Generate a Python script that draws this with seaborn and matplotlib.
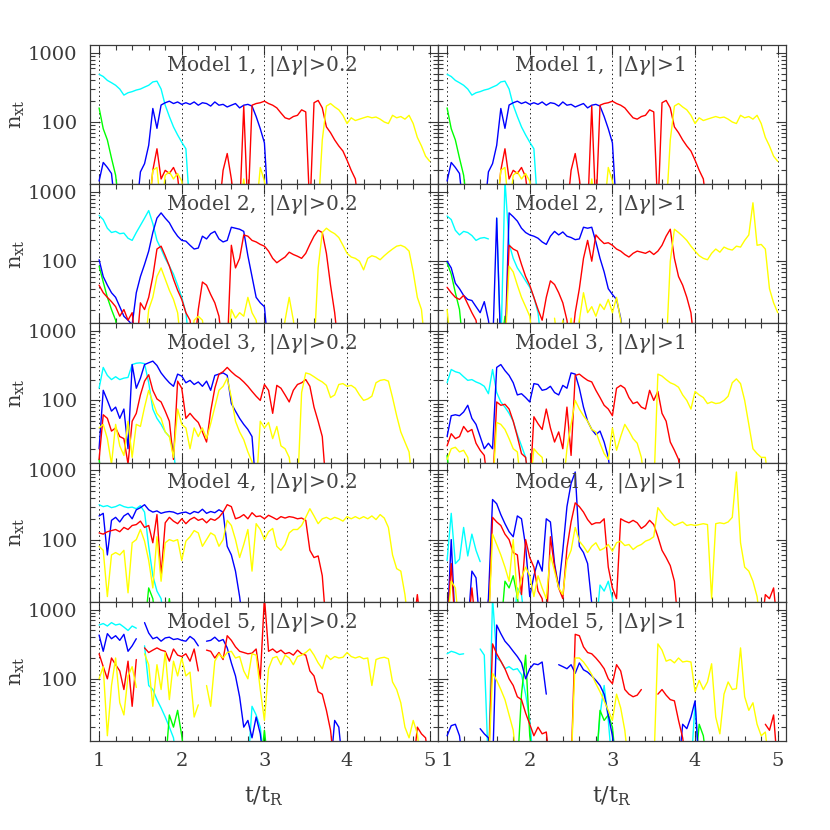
"""
n_xt vs t/t_R for five models, two |dgamma| thresholds (5x2 grid, log y)
"""

import numpy as np
import pandas as pd
import matplotlib
matplotlib.use("Agg")
import matplotlib.pyplot as plt
import matplotlib.ticker as mticker
import seaborn as sns

nan = np.nan

# sampling grid in t/t_R (values read every 0.05)
t = np.round(np.arange(1.0, 5.001, 0.05), 2)

# ---- Model 1 (both thresholds look the same) ----
m1_cyan = [490, 455, 400, 370, 340, 300, 245, 265, 275, 290, 300, 320, 340, 380, 390, 300, 175, 120, 85, 65, 51, 41, 5]
m1_green = [160, 80, 55, 30, 17, 5]
m1_blue = [14, 26, 22, 18, 5, 5, 5, 5, 5, 5, 19, 25, 46, 157, 81, 176, 190, 200,
           185, 195, 180, 190, 180, 195, 175, 190, 185, 170, 195, 175, 180, 165, 175, 185, 160, 175, 180, 170,
           120, 80, 50, 5]
m1_red = [nan] * 12 + [5, 20, 41, 15, 20, 18, 22, 16, 5] + [nan] * 8 + \
         [5, 20, 35, 15, 5, 5, 170, 5, 175, 185, 190, 200, 185, 175, 160, 135, 115, 110, 120, 125, 150, 140,
          5, 190, 205, 160, 85, 70, 55, 45, 38, 28, 20, 15, 5]
m1_yellow = [nan] * 12 + [5, 20, 22, 5, 17, 19, 15, 18, 14, 5] + [nan] * 12 + [5, 15, 5] + \
            [nan, 5, 22, 14, 5] + [nan] * 11 + \
            [5, 55, 170, 185, 165, 150, 125, 95, 115, 105, 110, 115, 120, 115, 118, 110, 100, 95, 125, 115,
             120, 110, 125, 95, 60, 45, 32, 27]

# ---- Model 2, |dgamma|>0.2 ----
m2a_cyan = [460, 400, 300, 260, 270, 250, 255, 215, 200, 260, 330, 420, 540, 350, 200, 150, 110, 85, 65, 45, 30, 18, 5]
m2a_green = [85, 50, 30, 20, 14, 5]
m2a_blue = [105, 60, 45, 35, 30, 22, 16, 14, 12, 35, 60, 90, 140, 260, 420, 500, 420, 360, 280, 230,
            200, 195, 170, 150, 155, 230, 210, 250, 270, 210, 190, 200, 310, 300, 290, 270, 120, 60, 30, 25, 22, 5]
m2a_red = [45, 35, 30, 26, 22, 16, 20, 14, 18, 5, 25, 20, 30, 60, 150, 165, 120, 85, 55, 38,
           28, 18, 14, 5, 20, 50, 45, 33, 25, 16, 5, 5, 170, 80, 110, 240, 230, 200, 190, 175,
           165, 140, 110, 95, 105, 115, 135, 125, 118, 110, 130, 175, 230, 280, 260, 130, 45, 18, 5]
m2a_yellow = [nan] * 11 + [5, 20, 30, 60, 80, 55, 38, 28, 18, 5] + [nan] + [5, 14, 16, 14, 5] + [nan] * 4 + \
             [5, 20, 15, 18, 16, 30, 18, 14, 5] + [nan] * 4 + [5, 14, 30, 14, 5] + [nan] * 3 + \
             [5, 80, 260, 300, 270, 250, 220, 170, 130, 115, 110, 100, 75, 110, 120, 115, 105, 120, 135, 150,
              165, 170, 160, 140, 70, 30, 20, 5, 5]

# ---- Model 2, |dgamma|>1 ----
m2b_cyan = [450, 400, 280, 240, 270, 260, 235, 200, 215, 220, 210, nan, 420, 5, 1500, 180, 110, 80, 65, 52, 42, 30, 18, 5]
m2b_green = [95, 65, 35, 20, 5] + [nan] * 8 + [5, 16, 5]
m2b_blue = [100, 80, 48, 40, 32, 28, 27, 22, 18, 26, 14, 5, 420, 5, 5, 500, 440, 380, 300, 260,
            240, 230, 215, 190, 175, 230, 270, 240, 265, 230, 220, 205, 210, 310, 300, 310, 190, 110, 70, 40,
            33, 28, 15, 5]
m2b_red = [42, 35, 30, 28, 32, 24, 18, 14, 5] + [nan] * 5 + \
          [5, 170, 150, 140, 90, 60, 45, 30, 20, 14, 30, 52, 46, 35, 25, 14, 5, 18, 40, 110,
           200, 100, 240, 205, 180, 185, 170, 150, 140, 125, 115, 130, 140, 135, 130, 140, 125, 140, 170, 230,
           290, 110, 60, 45, 30, 18, 5]
m2b_yellow = [20, 5] + [nan] * 12 + [5, 85, 70, 45, 30, 22, 16, 5] + [nan] * 4 + \
             [15, 5, 14, 5, 15, 5, 14, 35, 18, 22, 16, 24, 20, 28, 18, 30, 14, 5] + [nan] * 9 + \
             [5, 100, 290, 260, 230, 200, 165, 140, 120, 110, 105, 130, 150, 135, 160, 150, 145, 165, 160, 200,
              240, 700, 170, 175, 150, 40, 25, 18]

# ---- Model 3, |dgamma|>0.2 ----
m3a_cyan = [150, 300, 230, 200, 220, 200, 210, 215, 330, 345, 350, 340, 180, 75, 55, 45, 35, 30, 20, 5]
m3a_green = [14, 5]
m3a_blue = [20, 140, 100, 70, 80, 55, 75, 20, 330, 150, 210, 330, 350, 370, 320, 250, 210, 180, 160, 240,
            225, 180, 195, 170, 185, 160, 190, 140, 230, 240, 250, 230, 90, 70, 55, 45, 38, 30, 5]
m3a_red = [14, 62, 55, 36, 40, 30, 28, 12, 50, 65, 120, 190, 235, 140, 105, 95, 70, 50, 14, 190,
           150, 55, 65, 55, 48, 35, 25, 70, 150, 240, 260, 300, 260, 230, 210, 185, 160, 135, 115, 100,
           170, 140, 65, 165, 150, 120, 95, 140, 170, 180, 200, 160, 80, 50, 30, 5]
m3a_yellow = [40, 45, 28, 12, 45, 22, 16, 50, 15, 45, 42, 80, 140, 95, 65, 55, 35, 30, 15, 75,
              45, 40, 20, 40, 30, 40, 28, 46, 80, 140, 160, 210, 110, 50, 35, 27, 18, 13, 5, 50,
              40, 48, 28, 42, 22, 20, 15, 5, 5, 130, 250, 240, 220, 200, 185, 165, 110, 120, 170, 175,
              160, 165, 150, 120, 100, 105, 115, 180, 195, 200, 190, 110, 60, 35, 25, 18, 5]

# ---- Model 3, |dgamma|>1 ----
m3b_cyan = [180, 280, 260, 250, 220, 195, 200, 185, 175, 160, 125, 280, 130, 95, 80, 65, 50, 32, 22, 15, 5]
m3b_green = [16, 5]
m3b_blue = [30, 60, 62, 60, 68, 85, 55, 45, 30, 20, 24, 20, 300, 330, 270, 230, 180, 120, 125, 110,
            95, 175, 170, 140, 145, 160, 130, 120, 165, 150, 250, 240, 150, 80, 50, 38, 32, 36, 25, 15, 5]
m3b_red = [22, 33, 28, 30, 42, 35, 38, 24, 19, 16, 5, 5, 95, 85, 88, 75, 50, 30, 17, 15,
           5, 58, 46, 38, 75, 40, 25, 35, 20, 80, 16, 230, 240, 215, 195, 185, 140, 110, 85, 75,
           60, 150, 165, 150, 110, 90, 95, 80, 75, 140, 100, 135, 65, 50, 25, 19, 14, 5]
m3b_yellow = [14, 20, 21, 18, 19, 15, 5] + [nan] * 4 + [5, 48, 45, 38, 28, 20, 18, 5] + [nan] + \
             [5, 20, 17, 15, 5] + [nan] * 3 + \
             [5, 20, 45, 100, 75, 60, 50, 38, 35, 24, 17, 14, 40, 19, 30, 45, 36, 28, 24, 15, 5] + [nan] + \
             [5, 240, 225, 200, 180, 170, 155, 120, 100, 75, 135, 120, 110, 90, 95, 90, 92, 100, 115, 180,
              205, 175, 100, 45, 20, 17, 15, 15, 5]

# ---- Model 4, |dgamma|>0.2 ----
m4a_cyan = [320, 300, 310, 290, 300, 320, 300, 290, 295, 280, 310, 250, 80, 30, 18, 14, 5]
m4a_green = [nan] * 11 + [5, 20, 14, 5, nan, 5, 14, 5]
m4a_blue = [220, 240, 60, 190, 210, 180, 220, 240, 200, 270, 290, 320, 270, 250, 260, 240, 250, 255, 250, 235,
            245, 250, 235, 255, 245, 275, 240, 255, 245, 270, 250, 80, 60, 35, 15, 5]
m4a_red = [125, 120, 130, 135, 140, 130, 150, 140, 160, 165, 185, 150, 160, 90, 230, 30, 175, 210, 185, 170,
           200, 170, 195, 210, 190, 200, 175, 200, 190, 210, 250, 320, 300, 200, 210, 230, 200, 245, 215, 220,
           200, 225, 210, 195, 215, 205, 215, 210, 200, 205, 190, 70, 55, 58, 30, 5] + \
          [nan] * 20 + [5, 16, 5]
m4a_yellow = [80, 70, 15, 60, 65, 60, 70, 17, 90, 100, 140, 95, 50, 20, 110, 25, 90, 100, 95, 100,
              50, 95, 110, 135, 125, 80, 100, 125, 115, 80, 100, 190, 160, 100, 55, 85, 140, 35, 170, 140,
              100, 130, 145, 80, 70, 85, 125, 140, 140, 160, 210, 280, 220, 170, 200, 210, 195, 210, 200, 185,
              215, 200, 215, 200, 215, 200, 220, 195, 230, 205, 150, 60, 38, 35, 16, 5]

# ---- Model 4, |dgamma|>1 ----
m4b_cyan = [50, 240, 45, 52, 150, 58, 120, 70, 48] + [nan] * 7 + [5, 20, 16, 5] + [nan] * 16 + [5, 22, 18, 25, 14, 5]
m4b_green = [nan] * 13 + [5, 25, 20, 30, 15, 5]
m4b_blue = [5, 100, 5, 5, 5, 5, 35, 28, 5, 5, 14, 380, 330, 230, 170, 130, 110, 220, 200, 80,
            15, 30, 50, 35, 200, 180, 45, 20, 70, 300, 650, 950, 80, 65, 45, 12, 5]
m4b_red = [5, 45, 5] + [nan] * 2 + [5, 20, 5] + [nan] * 2 + \
          [5, 210, 180, 160, 120, 100, 65, 60, 16, 100, 55, 40, 18, 14, 5, 110, 40, 20, 14, 75,
           180, 340, 300, 250, 195, 165, 175, 175, 200, 40, 20, 14, 200, 185, 175, 190, 175, 145, 160, 190,
           165, 110, 70, 55, 42, 25, 5] + [nan] * 19 + [5, 16, 14, 20, 5]
m4b_yellow = [5, 25, 20, 5] + [nan] * 6 + \
             [5, 120, 85, 60, 40, 25, 100, 14, 28, 40, 30, 15, 30, 20, 14, 60, 35, 20, 16, 50,
              70, 150, 95, 80, 65, 80, 90, 70, 75, 85, 68, 90, 95, 82, 85, 72, 80, 85, 95, 100,
              110, 290, 240, 200, 180, 160, 170, 180, 160, 165, 160, 165, 170, 165, 14, 170, 175, 170, 180, 210,
              950, 90, 40, 35, 25, 15, 5]

# ---- Model 5, |dgamma|>0.2 ----
m5a_cyan = [600, 630, 580, 650, 600, 620, 560, 500, 580, 540, nan, 300, 80, 70, 50, 38, 28, 20, 14, 5] + \
           [nan] * 16 + [5, 40, 30, 20, 5]
m5a_green = [nan] * 16 + [5, 30, 20, 35, 15, 5] + [nan] * 17 + [5, 18, 5]
m5a_blue = [430, 250, 450, 380, 420, 360, 440, 250, 300, 380, nan, 650, 460, 380, 400, 350, 390, 400, 370, 380,
            360, 350, 410, 370, 300, nan, 350, 360, 400, 350, 370, 280, 170, 110, 55, 20, 25, 14, 28, 16,
            5] + [nan] * 15 + [5, 25, 20, 5]
m5a_red = [230, 150, 100, 200, 160, 130, 70, 180, 40, 190, nan, 280, 240, 260, 280, 260, 250, 180, 270, 220,
           210, 230, 180, 270, 130, nan, 260, 250, 200, 240, 190, 420, 360, 290, 250, 240, 230, 235, 270, 100,
           1500, 250, 270, 240, 260, 230, 240, 220, 260, 230, 220, 130, 110, 65, 60, 35, 18, 5] + \
          [nan] * 18 + [5, 20, 16, 14, 5]
m5a_yellow = [100, 150, 15, 80, 200, 45, 30, 110, 150, 75, nan, 230, 160, 40, 160, 70, 240, 50, 180, 110,
              200, 110, 125, 28, 42, nan, 80, 40, 180, 230, 200, 240, 250, 200, 210, 130, 100, 230, 220, 70,
              25, 140, 200, 210, 160, 220, 200, 160, 210, 220, 240, 270, 220, 170, 140, 220, 190, 210, 200, 205,
              240, 210, 200, 210, 195, 200, 80, 190, 200, 205, 195, 90, 70, 45, 20, 14, 25, 16, 5]

# ---- Model 5, |dgamma|>1 ----
m5b_cyan = [230, 250, 240, 225, 230, nan, nan, nan, 270, 220, 5, 1500, 200, 180, 140, 150, 135, 140, 115, 60,
            25, 5] + [nan] * 14 + [5, 30, 80, 25, 5] + [nan] * 18 + [5, 45, 5]
m5b_green = [nan] * 17 + [5, 60, 220, 15, 5] + [nan] * 14 + [5, 35, 25, 30, 20, 5] + [nan] * 18 + [5, 22, 15, 5]
m5b_blue = [15, 21, 22, 15, 5] + [nan] * 3 + \
           [19, 16, 14, 5, 600, 450, 350, 300, 250, 210, 170, 100, 140, 165, 160, 175, 60] + [nan] * 2 + \
           [160, 150, 140, 160, 120, 170, 135, 125, 110, 95, 80, 60, 30, 15, 5] + [nan] * 14 + \
           [5, 22, 19, 28, 48, 5]
m5b_red = [nan] * 10 + [5, 320, 230, 180, 140, 100, 80, 55, 50, 32, 22, 15, 20, 16, 17, 5] + [nan] * 4 + \
          [5, 440, 420, 290, 240, 230, 200, 170, 140, 100, 85, 160, 130, 70, 60, 55, 58, 70] + [nan] * 3 + \
          [60, 70, 58, 50, 48, 25, 14, 5] + [nan] * 18 + [22, 18, 30, 5]
m5b_yellow = [nan] * 10 + [5, 120, 95, 70, 50, 30, 18, 5] + [nan] * 12 + \
             [5, 200, 200, 175, 145, 115, 85, 65, 48, 35, 25, 60, 38, 18, 5] + [nan] * 5 + \
             [5, 320, 260, 180, 190, 170, 200, 175, 180, 175, 65, 95, 70, 90, 165, 28, 16, 60, 90, 70,
              72, 280, 55, 35, 45, 22, 15, 17, 5]

thresholds = ["0.2", "1"]
panels = [
    [dict(cyan=m1_cyan, green=m1_green, blue=m1_blue, red=m1_red, yellow=m1_yellow),
     dict(cyan=m1_cyan, green=m1_green, blue=m1_blue, red=m1_red, yellow=m1_yellow)],
    [dict(cyan=m2a_cyan, green=m2a_green, blue=m2a_blue, red=m2a_red, yellow=m2a_yellow),
     dict(cyan=m2b_cyan, green=m2b_green, blue=m2b_blue, red=m2b_red, yellow=m2b_yellow)],
    [dict(cyan=m3a_cyan, green=m3a_green, blue=m3a_blue, red=m3a_red, yellow=m3a_yellow),
     dict(cyan=m3b_cyan, green=m3b_green, blue=m3b_blue, red=m3b_red, yellow=m3b_yellow)],
    [dict(cyan=m4a_cyan, green=m4a_green, blue=m4a_blue, red=m4a_red, yellow=m4a_yellow),
     dict(cyan=m4b_cyan, green=m4b_green, blue=m4b_blue, red=m4b_red, yellow=m4b_yellow)],
    [dict(cyan=m5a_cyan, green=m5a_green, blue=m5a_blue, red=m5a_red, yellow=m5a_yellow),
     dict(cyan=m5b_cyan, green=m5b_green, blue=m5b_blue, red=m5b_red, yellow=m5b_yellow)],
]

colors = {"cyan": "#00ffff", "green": "#00ff00", "blue": "#0000ff", "red": "#ff0000", "yellow": "#ffff00"}
order = ["cyan", "green", "blue", "red", "yellow"]
ink = "#3a3a3a"


def make_frame(series):
    """long table, one segment id per unbroken run (nan = gap)"""
    rows = []
    for name, vals in series.items():
        vals = list(vals) + [nan] * (len(t) - len(vals))
        seg = 0
        for x, v in zip(t, vals):
            if np.isnan(v):
                seg += 1
                continue
            rows.append((x, v, name, f"{name}_{seg}"))
    return pd.DataFrame(rows, columns=["t", "n", "c", "seg"])


sns.set_style("ticks")
plt.rcParams["font.family"] = ["DejaVu Serif"]
plt.rcParams["mathtext.fontset"] = "dejavuserif"

fig, axes = plt.subplots(5, 2, figsize=(8.3, 8.3), dpi=100, sharex=True, sharey=True)
fig.subplots_adjust(left=90 / 830, right=786 / 830, top=1 - 45 / 830, bottom=1 - 741 / 830,
                    wspace=0, hspace=0)

for r in range(5):
    for c in range(2):
        ax = axes[r, c]
        df = make_frame(panels[r][c])
        hues = [h for h in order if h in set(df["c"])]
        ax.set_yscale("log")
        for x in [1, 2, 3, 4, 5]:
            ax.axvline(x, color="#222222", ls=(0, (1.5, 3)), lw=0.7, zorder=1)
        sns.lineplot(data=df, x="t", y="n", hue="c", units="seg", estimator=None,
                     hue_order=hues, palette={h: colors[h] for h in hues},
                     legend=False, sort=False, lw=1.0, ax=ax)
        ax.set_xlim(0.89, 5.1)
        ax.set_ylim(12.6, 1300)
        ax.xaxis.set_major_locator(mticker.FixedLocator([1, 2, 3, 4, 5]))
        ax.xaxis.set_minor_locator(mticker.MultipleLocator(0.2))
        ax.yaxis.set_major_locator(mticker.FixedLocator([100, 1000]))
        ax.yaxis.set_minor_locator(mticker.LogLocator(base=10, subs=range(2, 10)))
        ax.yaxis.set_major_formatter(mticker.FormatStrFormatter("%d"))
        ax.yaxis.set_minor_formatter(mticker.NullFormatter())
        ax.xaxis.set_major_formatter(mticker.FormatStrFormatter("%d"))
        ax.tick_params(which="both", direction="in", top=True, right=True, color=ink, width=0.8)
        ax.tick_params(which="major", length=7.5, labelsize=14, labelcolor=ink)
        ax.tick_params(axis="y", which="major", pad=9)
        ax.tick_params(axis="x", which="major", pad=8)
        ax.tick_params(which="minor", length=3.8)
        for sp in ax.spines.values():
            sp.set_color(ink)
            sp.set_linewidth(0.9)
        ax.set_xlabel("")
        ax.set_ylabel("")
        ax.text(0.218, 0.85, f"Model {r + 1},  |Δ$\\gamma$|>{thresholds[c]}", transform=ax.transAxes,
                ha="left", va="center", fontsize=14.5, color="#444444")
        if c == 0:
            ax.set_ylabel(r"n$_{\rm xt}$", fontsize=15, color=ink)
            ax.yaxis.set_label_coords(-0.18, 0.5)
        if r == 4:
            ax.set_xlabel(r"t/t$_{\rm R}$", fontsize=16, color=ink)
            ax.xaxis.set_label_coords(0.5, -0.31)

plt.savefig("out.png", dpi=100)
